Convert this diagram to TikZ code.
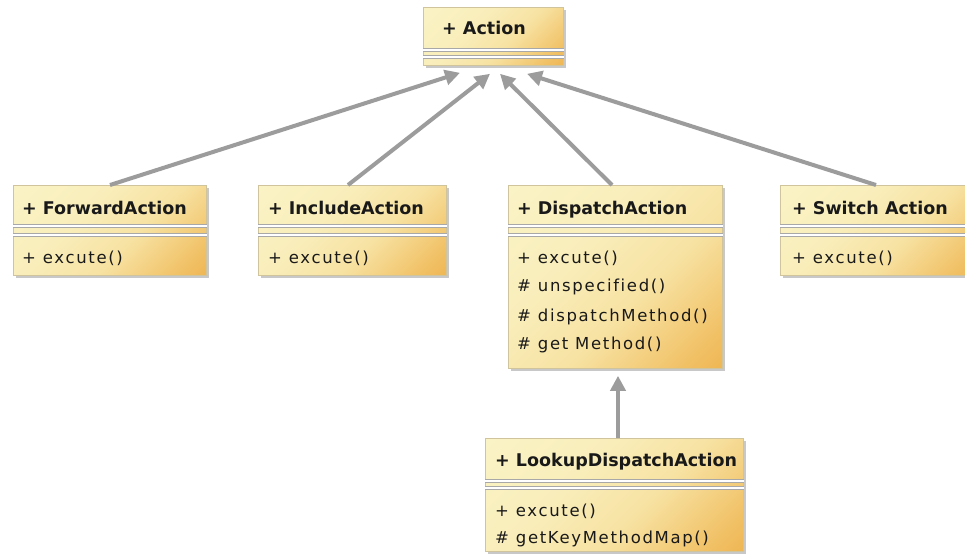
\documentclass[tikz,border=0pt]{standalone}
\usepackage{fontspec}
\setmainfont{DejaVu Sans}
\newfontfamily\methfnt[LetterSpace=10,Ligatures=CommonOff]{DejaVu Sans}
\usetikzlibrary{shadows,arrows.meta,calc}
\definecolor{fillA}{HTML}{FBF6CC}
\definecolor{fillA2}{HTML}{F9EEBB}
\definecolor{fillB}{HTML}{F7E2A2}
\definecolor{fillB2}{HTML}{F1C166}
\definecolor{fillC}{HTML}{E9A030}
\definecolor{boxedge}{HTML}{CFC49C}
\definecolor{sepgray}{HTML}{A8A8A8}
\definecolor{arrgray}{HTML}{9C9C9C}
\pgfdeclareverticalshading{umlfill}{100bp}{color(0bp)=(fillC); color(22bp)=(fillB2); color(42bp)=(fillB); color(62bp)=(fillA2); color(100bp)=(fillA)}
\tikzset{
  cls/.style={draw=boxedge, line width=0.8pt, shading=umlfill, shading angle=45,
    anchor=north west, inner sep=0pt, drop shadow={shadow xshift=3pt, shadow yshift=-3pt, opacity=0.3, fill=black!70}},
  ttl/.style={anchor=mid west, inner sep=0pt, font=\bfseries\fontsize{17.5}{20}\selectfont, text=black!90},
  mth/.style={anchor=mid west, inner sep=0pt, font=\methfnt\fontsize{16.5}{20}\selectfont, text=black!90},
  sepout/.style={draw=sepgray, line width=4pt},
  sepin/.style={draw=white, line width=2pt},
  gen/.style={draw=arrgray, line width=4pt, -{Triangle[length=15pt,width=15pt]}},
}
\newcommand\umlseps[3]{%
  \draw[sepout] ([yshift=-#2pt]#1.north west) -- ([yshift=-#2pt]#1.north east);
  \draw[sepin]  ([yshift=-#2pt]#1.north west) -- ([yshift=-#2pt]#1.north east);
  \draw[sepout] ([yshift=-#3pt]#1.north west) -- ([yshift=-#3pt]#1.north east);
  \draw[sepin]  ([yshift=-#3pt]#1.north west) -- ([yshift=-#3pt]#1.north east);
}
\begin{document}
\begin{tikzpicture}[x=1pt, y=-1pt]
\fill[white] (0,0) rectangle (965,558);
\useasboundingbox (0,0) rectangle (965,558);

% class boxes
\node[cls, minimum width=140pt, minimum height=58pt] (act) at (423,7) {};
\node[cls, minimum width=193pt, minimum height=90pt] (fwd) at (13,185) {};
\node[cls, minimum width=188pt, minimum height=90pt] (inc) at (258,185) {};
\node[cls, minimum width=214pt, minimum height=183pt] (dsp) at (508,185) {};
\node[cls, minimum width=200pt, minimum height=90pt] (swt) at (780,185) {};
\node[cls, minimum width=258pt, minimum height=113pt] (lk) at (485,438) {};

\umlseps{act}{43}{50}
\umlseps{fwd}{41}{50}
\umlseps{inc}{41}{50}
\umlseps{dsp}{41}{50}
\umlseps{swt}{41}{50}
\umlseps{lk}{43}{50}

% titles
\node[ttl] (actT) at ($(act.north west)+(19,25)$) {+ Action};
\node[ttl] (fwdT) at ($(fwd.north west)+(9,27)$) {+ ForwardAction};
\node[ttl] (incT) at ($(inc.north west)+(10,27)$) {+ IncludeAction};
\node[ttl] (dspT) at ($(dsp.north west)+(9,27)$) {+ DispatchAction};
\node[ttl] (swtT) at ($(swt.north west)+(12,27)$) {+ Switch Action};
\node[ttl] (lkT) at ($(lk.north west)+(10,26)$) {+ LookupDispatchAction};

% methods
\node[mth] (fwdM1) at ($(fwd.north west)+(9,76)$) {+ excute()};
\node[mth] (incM1) at ($(inc.north west)+(10,76)$) {+ excute()};
\node[mth] (swtM1) at ($(swt.north west)+(12,76)$) {+ excute()};
\node[mth] (dspM1) at ($(dsp.north west)+(9,76)$) {+ excute()};
\node[mth] (dspM2) at ($(dsp.north west)+(9,104)$) {\# unspecified()};
\node[mth] (dspM3) at ($(dsp.north west)+(9,134)$) {\# dispatchMethod()};
\node[mth] (dspM4) at ($(dsp.north west)+(9,162)$) {\# get Method()};
\node[mth] (lkM1) at ($(lk.north west)+(10,76)$) {+ excute()};
\node[mth] (lkM2) at ($(lk.north west)+(10,103)$) {\# getKeyMethodMap()};

% connector end points
\coordinate (tipF) at ($(act.south west)+(37,7)$);
\coordinate (tipI) at ($(act.south west)+(67,8)$);
\coordinate (tipD) at ($(act.south west)+(77,8)$);
\coordinate (tipS) at ($(act.south west)+(104,8)$);
\coordinate (fwdS) at ($(fwd.north west)+(97,0)$);
\coordinate (incS) at ($(inc.north west)+(90,0)$);
\coordinate (dspS) at ($(dsp.north west)+(104,0)$);
\coordinate (swtS) at ($(swt.north west)+(96,0)$);
\coordinate (lkS) at ($(lk.north west)+(133,0)$);
\coordinate (tipL) at ($(dsp.south west)+(110,7)$);

% generalisations
\draw[gen] (fwdS) -- (tipF);
\draw[gen] (incS) -- (tipI);
\draw[gen] (dspS) -- (tipD);
\draw[gen] (swtS) -- (tipS);
\draw[gen] (lkS) -- (tipL);
\end{tikzpicture}
\end{document}
